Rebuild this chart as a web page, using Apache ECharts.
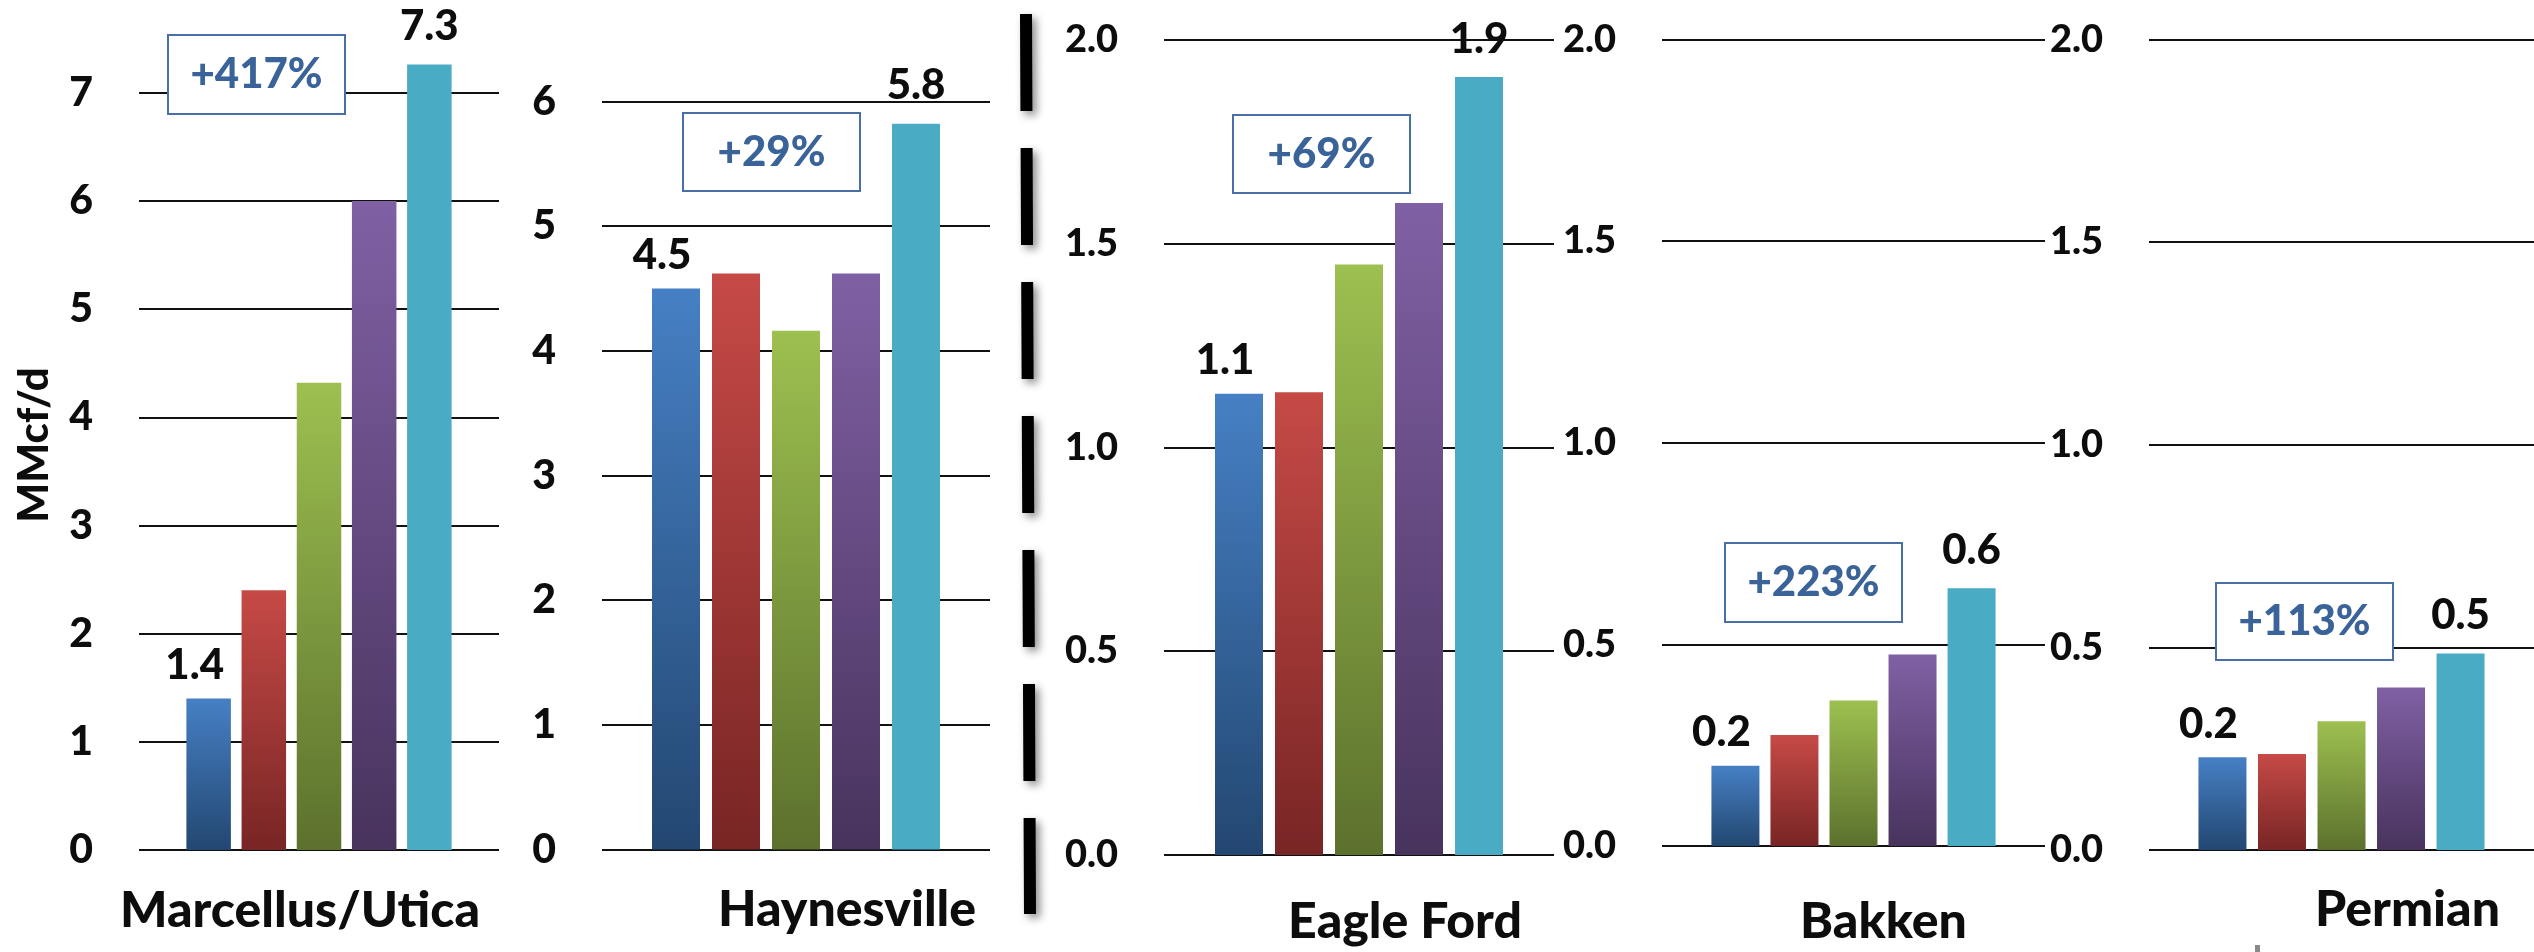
<!DOCTYPE html>
<html>
<head>
<meta charset="utf-8">
<script src="https://cdn.jsdelivr.net/npm/echarts@6/dist/echarts.min.js"></script>
<style>
  html, body { margin: 0; padding: 0; background: #fff; }
  #chart { width: 2534px; height: 952px; }
</style>
</head>
<body>
<div id="chart"></div>
<script>
// Average gas output per well by basin, five successive periods (MMcf/d)
const basins = ['Marcellus/Utica', 'Haynesville', 'Eagle Ford', 'Bakken', 'Permian'];
const marcellusUtica = [1.40, 2.40, 4.32, 6.00, 7.26];
const haynesville    = [4.50, 4.62, 4.16, 4.62, 5.82];
const eagleFord      = [1.131, 1.135, 1.448, 1.599, 1.908];
const bakken         = [0.199, 0.275, 0.361, 0.475, 0.639];
const permian        = [0.229, 0.237, 0.318, 0.401, 0.485];
const growthLabels   = ['+417%', '+29%', '+69%', '+223%', '+113%'];
const axisMax        = [7, 6, 2.0, 2.0, 2.0];
const axisStep       = [1, 1, 0.5, 0.5, 0.5];
const tickDecimals   = [0, 0, 1, 1, 1];
const unitLabel      = 'MMcf/d';

const basinValues = [marcellusUtica, haynesville, eagleFord, bakken, permian];

// Office-style palette, light at the top of each bar and darker at its foot
const barTop    = ['#4680c4', '#c64a46', '#9dc050', '#8060a4', '#4aabc4'];
const barBottom = ['#234771', '#782525', '#5c712d', '#48335d', '#4aabc4'];

// Panel geometry (pixels)
const panels = [
  { left: 139,  width: 360, top: 92.7,  height: 757.3, barWidth: 44.5, barGap: '24%', titleDx: -19,  titleGap: 36, tickSize: 41 },
  { left: 602,  width: 388, top: 101.4, height: 748.0, barWidth: 48,   barGap: '25%', titleDx: 51,   titleGap: 35, tickSize: 41 },
  { left: 1164, width: 390, top: 39.5,  height: 818.5, barWidth: 48,   barGap: '25%', titleDx: 46,   titleGap: 42, tickSize: 38 },
  { left: 1662, width: 383, top: 39.5,  height: 807.5, barWidth: 48,   barGap: '23%', titleDx: 30,   titleGap: 51, tickSize: 38 },
  { left: 2149, width: 389, top: 39.5,  height: 810.5, barWidth: 48,   barGap: '24%', titleDx: 66,   titleGap: 35, tickSize: 38 }
];

// Callout boxes with the change from first to last period
const boxes = [
  { x: 168,  y: 35,  w: 177, h: 79 },
  { x: 683,  y: 113, w: 177, h: 78 },
  { x: 1233, y: 115, w: 177, h: 78 },
  { x: 1725, y: 543, w: 177, h: 79 },
  { x: 2216, y: 583, w: 177, h: 77 }
];

const FONT = 'Lato, "Open Sans", sans-serif';
const WEIGHT = 900;

const grids = [], xAxes = [], yAxes = [], series = [];

panels.forEach((p, i) => {
  grids.push({ left: p.left, top: p.top, width: p.width, height: p.height, containLabel: false });

  const pad = p.titleDx >= 0 ? [0, 0, 0, 2 * p.titleDx] : [0, -2 * p.titleDx, 0, 0];
  xAxes.push({
    type: 'category',
    gridIndex: i,
    data: [basins[i]],
    axisLine: { show: false },
    axisTick: { show: false },
    axisLabel: { show: false },
    splitLine: { show: false },
    name: basins[i],
    nameLocation: 'middle',
    nameGap: p.titleGap,
    nameTextStyle: {
      fontFamily: FONT, fontWeight: WEIGHT, fontSize: 50, color: '#0d0d0d', padding: pad
    }
  });

  yAxes.push({
    type: 'value',
    gridIndex: i,
    min: 0,
    max: axisMax[i],
    interval: axisStep[i],
    axisLine: { show: false },
    axisTick: { show: false },
    axisLabel: {
      margin: 46,
      fontFamily: FONT, fontWeight: WEIGHT, fontSize: p.tickSize, color: '#0d0d0d',
      formatter: v => v.toFixed(tickDecimals[i])
    },
    splitLine: { show: true, lineStyle: { color: '#111', width: 2 } }
  });

  basinValues[i].forEach((v, j) => {
    const labelled = (j === 0 || j === basinValues[i].length - 1);
    series.push({
      type: 'bar',
      name: basins[i] + ' ' + (j + 1),
      xAxisIndex: i,
      yAxisIndex: i,
      data: [v],
      barWidth: p.barWidth,
      barGap: p.barGap,
      clip: false,
      itemStyle: {
        color: new echarts.graphic.LinearGradient(0, 0, 0, 1, [
          { offset: 0, color: barTop[j] },
          { offset: 1, color: barBottom[j] }
        ])
      },
      label: {
        show: labelled,
        position: 'top',
        distance: j === 0 ? 12 : 17,
        offset: j === 0 ? [-14, 0] : [0, 0],
        fontFamily: FONT, fontWeight: WEIGHT, fontSize: 42, color: '#0d0d0d',
        formatter: prm => prm.value.toFixed(1)
      },
      emphasis: { disabled: true },
      animation: false
    });
  });
});

const graphics = [];

// vertical axis title
graphics.push({
  type: 'text',
  x: 34, y: 445,
  rotation: Math.PI / 2,
  z: 100,
  style: {
    text: unitLabel,
    fill: '#0d0d0d',
    font: WEIGHT + ' 42px ' + FONT,
    align: 'center', verticalAlign: 'middle',
    textAlign: 'center', textVerticalAlign: 'middle'
  }
});

// dashed divider between the Haynesville and Eagle Ford panels
graphics.push({
  type: 'line',
  z: 100,
  shape: { x1: 1026, y1: 14, x2: 1030, y2: 914 },
  style: {
    stroke: '#000', lineWidth: 12, lineDash: [97, 37], lineCap: 'butt',
    shadowBlur: 8, shadowColor: 'rgba(0,0,0,0.45)', shadowOffsetX: 4, shadowOffsetY: 4
  }
});

// change callouts
boxes.forEach((b, i) => {
  graphics.push({
    type: 'rect',
    z: 100,
    shape: { x: b.x, y: b.y, width: b.w, height: b.h },
    style: { fill: '#fff', stroke: '#4a6fa6', lineWidth: 2 }
  });
  graphics.push({
    type: 'text',
    z: 101,
    x: b.x + b.w / 2,
    y: b.y + b.h / 2,
    style: {
      text: growthLabels[i],
      fill: '#3a6399',
      font: WEIGHT + ' 42px ' + FONT,
      align: 'center', verticalAlign: 'middle',
      textAlign: 'center', textVerticalAlign: 'middle'
    }
  });
});

// small grey mark at the lower edge
graphics.push({
  type: 'rect',
  z: 100,
  shape: { x: 2255, y: 945, width: 5, height: 7 },
  style: { fill: '#8a8a8a' }
});

const chart = echarts.init(document.getElementById('chart'), null, { renderer: 'canvas' });
chart.setOption({
  animation: false,
  backgroundColor: '#fff',
  grid: grids,
  xAxis: xAxes,
  yAxis: yAxes,
  series: series,
  graphic: graphics
});
</script>
</body>
</html>
